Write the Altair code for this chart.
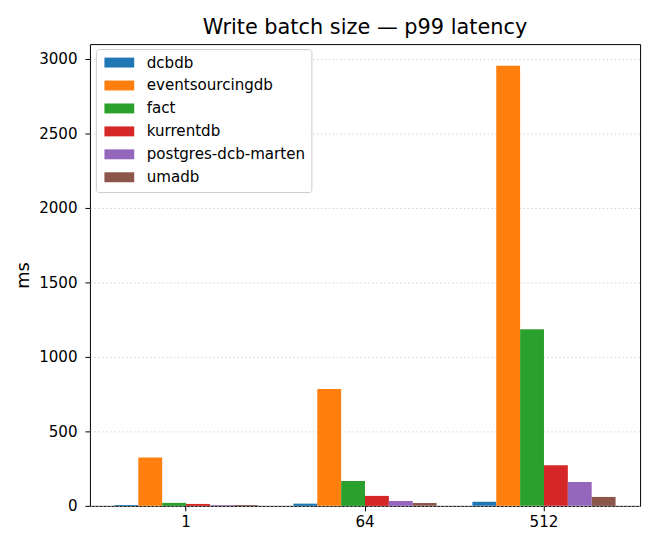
import altair as alt
import pandas as pd

batch_sizes = ["1", "64", "512"]
systems = ["dcbdb", "eventsourcingdb", "fact", "kurrentdb", "postgres-dcb-marten", "umadb"]
colors = ["#1f77b4", "#ff7f0e", "#2ca02c", "#d62728", "#9467bd", "#8c564b"]

dcbdb = [6, 15, 27]
eventsourcingdb = [325, 785, 2955]
fact = [20, 167, 1185]
kurrentdb = [13, 67, 273]
postgres_dcb_marten = [6, 33, 160]
umadb = [6, 20, 60]

y_ticks = [0, 500, 1000, 1500, 2000, 2500, 3000]

series = [dcbdb, eventsourcingdb, fact, kurrentdb, postgres_dcb_marten, umadb]
rows = []
for name, vals in zip(systems, series):
    for b, v in zip(batch_sizes, vals):
        rows.append({"batch": b, "system": name, "ms": v})
df = pd.DataFrame(rows)

FONT = "DejaVu Sans"

chart = (
    alt.Chart(df)
    .mark_bar()
    .encode(
        x=alt.X(
            "batch:N",
            sort=batch_sizes,
            scale=alt.Scale(paddingInner=0.2, paddingOuter=0.137),
            axis=alt.Axis(title=None, labelAngle=0, grid=False, labelPadding=4),
        ),
        xOffset=alt.XOffset(
            "system:N",
            sort=systems,
            scale=alt.Scale(paddingInner=0, paddingOuter=0),
        ),
        y=alt.Y(
            "ms:Q",
            scale=alt.Scale(domain=[0, 3100], nice=False, zero=True),
            axis=alt.Axis(
                values=y_ticks,
                format="d",
                title="ms",
                titleFontSize=18,
                titlePadding=6,
                labelPadding=8,
                grid=True,
                gridDash=[1.5, 2.5],
                gridColor="#c8c8c8",
                gridWidth=0.8,
            ),
        ),
        color=alt.Color(
            "system:N",
            sort=systems,
            scale=alt.Scale(domain=systems, range=colors),
            legend=alt.Legend(
                title=None,
                orient="none",
                legendX=6,
                legendY=5,
                symbolType="M-3,-1H3V1H-3Z",
                symbolSize=100,
                symbolStrokeWidth=0,
                symbolOpacity=1,
                symbolOffset=10,
                labelOffset=20,
                labelFontSize=15.2,
                labelFont=FONT,
                labelColor="black",
                fillColor="rgba(255,255,255,0.8)",
                strokeColor="#cccccc",
                cornerRadius=3,
                padding=6,
                rowPadding=7.1,
            ),
        ),
    )
    .properties(
        width=554,
        height=465,
        title=alt.TitleParams(
            "Write batch size — p99 latency",
            fontSize=21,
            font=FONT,
            fontWeight="normal",
            color="black",
            anchor="middle",
            offset=6,
        ),
        autosize=alt.AutoSizeParams(type="none"),
        padding={"left": 82.5, "top": 34.5, "right": 12, "bottom": 30},
    )
    .configure_view(stroke="black", strokeWidth=1)
    .configure_axis(
        domain=False,
        tickColor="black",
        tickSize=5,
        tickWidth=1,
        labelFont=FONT,
        labelFontSize=15.2,
        labelColor="black",
        titleFont=FONT,
        titleColor="black",
        titleFontWeight="normal",
    )
)

chart.save("out.html", embed_options={"renderer": "svg", "actions": False})
